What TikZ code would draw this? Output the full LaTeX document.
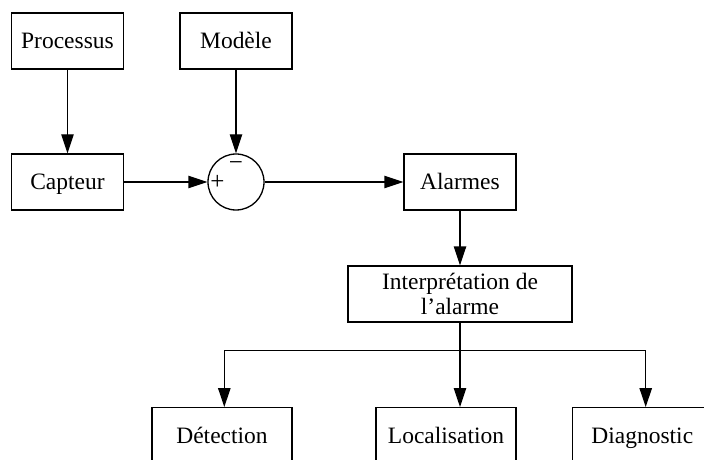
\documentclass[tikz,border=0pt]{standalone}
\usepackage{fontspec}
\setmainfont{Liberation Serif}
\usetikzlibrary{arrows.meta}

\begin{document}
\begin{tikzpicture}[x=0.5pt,y=-0.5pt,
        boite/.style={draw, line width=0.65pt, minimum width=56pt, minimum height=28pt,
            inner sep=0pt, text height=9pt, text depth=1.5pt, align=center,
            font=\fontsize{11.74}{12.9}\selectfont},
        somme/.style={draw, circle, line width=0.65pt, minimum size=28pt, inner sep=0pt},
        signe/.style={inner sep=0pt, anchor=base, font=\fontsize{12.5}{12.9}\selectfont},
        fleche/.style={line width=0.65pt, -{Triangle[length=9.5pt,width=6.2pt]}}]
        \path[use as bounding box, clip] (0,0) rectangle (704,459);

        \node[boite] (processus) at (67.5,41) {Processus};
        \node[boite] (modele) at (236,41) {Modèle};
        \node[boite] (capteur) at (67.5,182) {Capteur};
        \node[somme] (comp) at (236,182) {};
        \node[signe] (moins) at (236,171) {−};
        \node[signe] (plus) at (217.5,190) {+};
        \node[boite] (alarmes) at (460,182) {Alarmes};
        \node[boite, minimum width=112pt, text height=, text depth=] (interp) at (460,294)
            {Interprétation de\\l’alarme};
        \node[boite, minimum width=70pt] (detection) at (222,435.7) {Détection};
        \node[boite, minimum width=70pt] (localisation) at (446,435.7) {Localisation};
        \node[boite, minimum width=70pt] (diagnostic) at (642.3,435.7) {Diagnostic};
        \coordinate (branche) at (460,350.5);

        \draw[fleche] (processus) -- (capteur);
        \draw[fleche] (modele) -- (comp);
        \draw[fleche] (capteur) -- (comp);
        \draw[fleche] (comp) -- (alarmes);
        \draw[fleche] (alarmes) -- (interp);
        \draw[line width=0.65pt] (interp) -- (branche);
        \draw[fleche] (branche) -| ([xshift=1.15pt]detection.north);
        \draw[fleche] (branche) -- (branche |- localisation.north);
        \draw[fleche] (branche) -| ([xshift=1.7pt]diagnostic.north);
    \end{tikzpicture}
\end{document}
